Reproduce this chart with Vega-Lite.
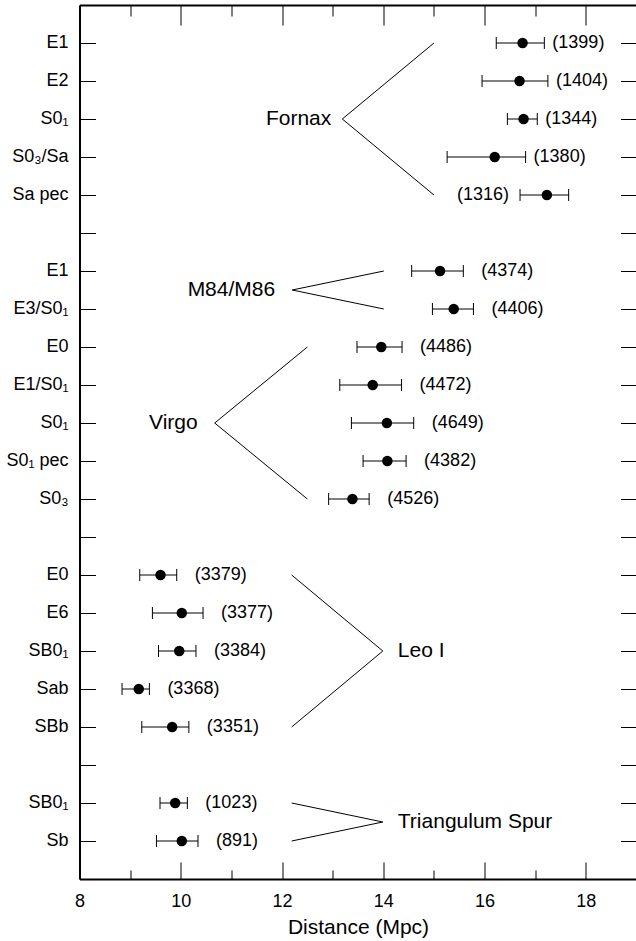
{
  "$schema": "https://vega.github.io/schema/vega-lite/v6.json",
  "width": 557,
  "height": 874,
  "autosize": {"type": "none"},
  "padding": {"left": 79.5, "top": 5, "right": 0, "bottom": 62},
  "config": {
    "view": {"stroke": null},
    "font": "Liberation Sans",
    "axis": {"grid": false, "domainColor": "black", "domainWidth": 2, "tickColor": "black", "tickWidth": 1, "labelColor": "black", "titleColor": "black"}
  },
  "datasets": {
    "galaxies": [
      {"row": 1, "cluster": "Fornax", "type": "E1", "lo": 16.23, "d": 16.75, "hi": 17.18, "n": "(1399)"},
      {"row": 2, "cluster": "Fornax", "type": "E2", "lo": 15.95, "d": 16.69, "hi": 17.25, "n": "(1404)"},
      {"row": 3, "cluster": "Fornax", "type": "S0₁", "lo": 16.45, "d": 16.77, "hi": 17.04, "n": "(1344)"},
      {"row": 4, "cluster": "Fornax", "type": "S0₃/Sa", "lo": 15.26, "d": 16.2, "hi": 16.81, "n": "(1380)"},
      {"row": 5, "cluster": "Fornax", "type": "Sa pec", "lo": 16.7, "d": 17.23, "hi": 17.66, "n": "(1316)"},
      {"row": 7, "cluster": "M84/M86", "type": "E1", "lo": 14.56, "d": 15.12, "hi": 15.58, "n": "(4374)"},
      {"row": 8, "cluster": "M84/M86", "type": "E3/S0₁", "lo": 14.97, "d": 15.39, "hi": 15.78, "n": "(4406)"},
      {"row": 9, "cluster": "Virgo", "type": "E0", "lo": 13.48, "d": 13.96, "hi": 14.37, "n": "(4486)"},
      {"row": 10, "cluster": "Virgo", "type": "E1/S0₁", "lo": 13.14, "d": 13.79, "hi": 14.36, "n": "(4472)"},
      {"row": 11, "cluster": "Virgo", "type": "S0₁", "lo": 13.37, "d": 14.07, "hi": 14.6, "n": "(4649)"},
      {"row": 12, "cluster": "Virgo", "type": "S0₁ pec", "lo": 13.6, "d": 14.08, "hi": 14.45, "n": "(4382)"},
      {"row": 13, "cluster": "Virgo", "type": "S0₃", "lo": 12.92, "d": 13.39, "hi": 13.72, "n": "(4526)"},
      {"row": 15, "cluster": "Leo I", "type": "E0", "lo": 9.19, "d": 9.6, "hi": 9.92, "n": "(3379)"},
      {"row": 16, "cluster": "Leo I", "type": "E6", "lo": 9.44, "d": 10.02, "hi": 10.44, "n": "(3377)"},
      {"row": 17, "cluster": "Leo I", "type": "SB0₁", "lo": 9.56, "d": 9.97, "hi": 10.3, "n": "(3384)"},
      {"row": 18, "cluster": "Leo I", "type": "Sab", "lo": 8.84, "d": 9.17, "hi": 9.38, "n": "(3368)"},
      {"row": 19, "cluster": "Leo I", "type": "SBb", "lo": 9.23, "d": 9.83, "hi": 10.16, "n": "(3351)"},
      {"row": 21, "cluster": "Triangulum Spur", "type": "SB0₁", "lo": 9.59, "d": 9.89, "hi": 10.13, "n": "(1023)"},
      {"row": 22, "cluster": "Triangulum Spur", "type": "Sb", "lo": 9.52, "d": 10.02, "hi": 10.34, "n": "(891)"}
    ],
    "brackets": [
      {"cluster": "Fornax", "seq": 0, "x": 15.0, "row": 1},
      {"cluster": "Fornax", "seq": 1, "x": 13.19, "row": 3},
      {"cluster": "Fornax", "seq": 2, "x": 15.0, "row": 5},
      {"cluster": "M84/M86", "seq": 0, "x": 14.01, "row": 7},
      {"cluster": "M84/M86", "seq": 1, "x": 12.2, "row": 7.5},
      {"cluster": "M84/M86", "seq": 2, "x": 14.01, "row": 8},
      {"cluster": "Virgo", "seq": 0, "x": 12.5, "row": 9},
      {"cluster": "Virgo", "seq": 1, "x": 10.67, "row": 11},
      {"cluster": "Virgo", "seq": 2, "x": 12.5, "row": 13},
      {"cluster": "Leo I", "seq": 0, "x": 12.19, "row": 15},
      {"cluster": "Leo I", "seq": 1, "x": 13.99, "row": 17},
      {"cluster": "Leo I", "seq": 2, "x": 12.19, "row": 19},
      {"cluster": "Triangulum Spur", "seq": 0, "x": 12.19, "row": 21},
      {"cluster": "Triangulum Spur", "seq": 1, "x": 13.99, "row": 21.5},
      {"cluster": "Triangulum Spur", "seq": 2, "x": 12.19, "row": 22}
    ]
  },
  "layer": [
    {
      "data": {"name": "galaxies"},
      "mark": {"type": "rule", "color": "black", "strokeWidth": 1},
      "encoding": {
        "x": {
          "field": "lo", "type": "quantitative",
          "scale": {"domain": [8, 19], "nice": false, "zero": false},
          "axis": {
            "orient": "bottom",
            "values": [8, 10, 12, 14, 16, 18],
            "ticks": false,
            "labelFontSize": 18,
            "labelPadding": 13,
            "labelFlush": false,
            "labelOverlap": false,
            "title": "Distance (Mpc)",
            "titleFontSize": 21,
            "titleFontWeight": "normal",
            "titlePadding": 6
          }
        },
        "x2": {"field": "hi"},
        "y": {
          "field": "row", "type": "quantitative",
          "scale": {"domain": [0, 23], "reverse": true, "nice": false, "zero": false},
          "axis": {
            "orient": "left",
            "values": [1, 2, 3, 4, 5, 6, 7, 8, 9, 10, 11, 12, 13, 14, 15, 16, 17, 18, 19, 20, 21, 22],
            "labels": false,
            "tickSize": -16,
            "title": null
          }
        }
      }
    },
    {
      "data": {"name": "galaxies"},
      "mark": {"type": "point", "shape": "M0,-1L0,1", "filled": false, "stroke": "black", "strokeWidth": 1, "size": 144, "opacity": 1},
      "encoding": {
        "x": {
          "field": "lo", "type": "quantitative",
          "scale": {"domain": [8, 19], "nice": false, "zero": false},
          "axis": {
            "orient": "top",
            "values": [8, 9, 10, 11, 12, 13, 14, 15, 16, 17, 18],
            "labels": false,
            "tickSize": {"condition": {"test": "datum.value % 2 === 0", "value": -20}, "value": -11},
            "title": null
          }
        },
        "y": {
          "field": "row", "type": "quantitative",
          "scale": {"domain": [0, 23], "reverse": true, "nice": false, "zero": false},
          "axis": {
            "orient": "right",
            "values": [1, 2, 3, 4, 5, 6, 7, 8, 9, 10, 11, 12, 13, 14, 15, 16, 17, 18, 19, 20, 21, 22],
            "labels": false,
            "tickSize": -16,
            "title": null
          }
        }
      }
    },
    {
      "data": {"name": "galaxies"},
      "mark": {"type": "point", "shape": "M0,-1L0,1", "filled": false, "stroke": "black", "strokeWidth": 1, "size": 144, "opacity": 1},
      "encoding": {
        "x": {
          "field": "hi", "type": "quantitative",
          "scale": {"domain": [8, 19], "nice": false, "zero": false},
          "axis": {
            "orient": "bottom",
            "values": [8, 9, 10, 11, 12, 13, 14, 15, 16, 17, 18],
            "labels": false,
            "domain": false,
            "tickSize": {"condition": {"test": "datum.value % 2 === 0", "value": -17}, "value": -9},
            "title": null
          }
        },
        "y": {"field": "row", "type": "quantitative", "scale": {"domain": [0, 23], "reverse": true, "nice": false, "zero": false}, "axis": null}
      }
    },
    {
      "data": {"name": "galaxies"},
      "mark": {"type": "circle", "color": "black", "size": 110, "opacity": 1},
      "encoding": {
        "x": {"field": "d", "type": "quantitative", "scale": {"domain": [8, 19], "nice": false, "zero": false}, "axis": null},
        "y": {"field": "row", "type": "quantitative", "scale": {"domain": [0, 23], "reverse": true, "nice": false, "zero": false}, "axis": null}
      }
    },
    {
      "data": {"name": "galaxies"},
      "transform": [{"filter": "datum.cluster !== 'Fornax'"}],
      "mark": {"type": "text", "align": "left", "baseline": "middle", "dx": 18, "fontSize": 18, "color": "black"},
      "encoding": {
        "x": {"field": "hi", "type": "quantitative", "scale": {"domain": [8, 19], "nice": false, "zero": false}, "axis": null},
        "y": {"field": "row", "type": "quantitative", "scale": {"domain": [0, 23], "reverse": true, "nice": false, "zero": false}, "axis": null},
        "text": {"field": "n"}
      }
    },
    {
      "data": {"name": "galaxies"},
      "transform": [{"filter": "datum.cluster === 'Fornax' && datum.type !== 'Sa pec'"}],
      "mark": {"type": "text", "align": "left", "baseline": "middle", "dx": 8, "fontSize": 18, "color": "black"},
      "encoding": {
        "x": {"field": "hi", "type": "quantitative", "scale": {"domain": [8, 19], "nice": false, "zero": false}, "axis": null},
        "y": {"field": "row", "type": "quantitative", "scale": {"domain": [0, 23], "reverse": true, "nice": false, "zero": false}, "axis": null},
        "text": {"field": "n"}
      }
    },
    {
      "data": {"name": "galaxies"},
      "transform": [{"filter": "datum.cluster === 'Fornax' && datum.type === 'Sa pec'"}],
      "mark": {"type": "text", "align": "right", "baseline": "middle", "dx": -11, "fontSize": 18, "color": "black"},
      "encoding": {
        "x": {"field": "lo", "type": "quantitative", "scale": {"domain": [8, 19], "nice": false, "zero": false}, "axis": null},
        "y": {"field": "row", "type": "quantitative", "scale": {"domain": [0, 23], "reverse": true, "nice": false, "zero": false}, "axis": null},
        "text": {"field": "n"}
      }
    },
    {
      "data": {"name": "galaxies"},
      "mark": {"type": "text", "align": "right", "baseline": "middle", "dx": -11, "fontSize": 18, "color": "black"},
      "encoding": {
        "x": {"datum": 8, "type": "quantitative", "scale": {"domain": [8, 19], "nice": false, "zero": false}, "axis": null},
        "y": {"field": "row", "type": "quantitative", "scale": {"domain": [0, 23], "reverse": true, "nice": false, "zero": false}, "axis": null},
        "text": {"field": "type"}
      }
    },
    {
      "data": {"name": "brackets"},
      "mark": {"type": "line", "color": "black", "strokeWidth": 1},
      "encoding": {
        "x": {"field": "x", "type": "quantitative", "scale": {"domain": [8, 19], "nice": false, "zero": false}, "axis": null},
        "y": {"field": "row", "type": "quantitative", "scale": {"domain": [0, 23], "reverse": true, "nice": false, "zero": false}, "axis": null},
        "detail": {"field": "cluster"},
        "order": {"field": "seq"}
      }
    },
    {
      "data": {"name": "brackets"},
      "transform": [{"filter": "datum.seq === 1 && datum.cluster === 'Fornax'"}],
      "mark": {"type": "text", "align": "right", "baseline": "middle", "dx": -11, "fontSize": 21, "color": "black"},
      "encoding": {
        "x": {"field": "x", "type": "quantitative", "scale": {"domain": [8, 19], "nice": false, "zero": false}, "axis": null},
        "y": {"field": "row", "type": "quantitative", "scale": {"domain": [0, 23], "reverse": true, "nice": false, "zero": false}, "axis": null},
        "text": {"field": "cluster"}
      }
    },
    {
      "data": {"name": "brackets"},
      "transform": [{"filter": "datum.seq === 1 && (datum.cluster === 'M84/M86' || datum.cluster === 'Virgo')"}],
      "mark": {"type": "text", "align": "right", "baseline": "middle", "dx": -17, "fontSize": 21, "color": "black"},
      "encoding": {
        "x": {"field": "x", "type": "quantitative", "scale": {"domain": [8, 19], "nice": false, "zero": false}, "axis": null},
        "y": {"field": "row", "type": "quantitative", "scale": {"domain": [0, 23], "reverse": true, "nice": false, "zero": false}, "axis": null},
        "text": {"field": "cluster"}
      }
    },
    {
      "data": {"name": "brackets"},
      "transform": [{"filter": "datum.seq === 1 && (datum.cluster === 'Leo I' || datum.cluster === 'Triangulum Spur')"}],
      "mark": {"type": "text", "align": "left", "baseline": "middle", "dx": 15, "fontSize": 21, "color": "black"},
      "encoding": {
        "x": {"field": "x", "type": "quantitative", "scale": {"domain": [8, 19], "nice": false, "zero": false}, "axis": null},
        "y": {"field": "row", "type": "quantitative", "scale": {"domain": [0, 23], "reverse": true, "nice": false, "zero": false}, "axis": null},
        "text": {"field": "cluster"}
      }
    }
  ],
  "resolve": {"axis": {"x": "independent", "y": "independent"}}
}
